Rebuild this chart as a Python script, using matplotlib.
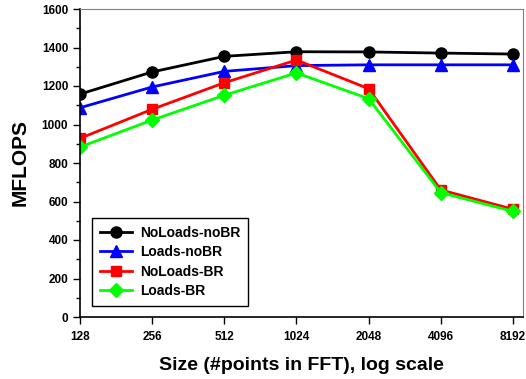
import numpy as np
import matplotlib as mpl
mpl.use('Agg')
import matplotlib.pyplot as plt
import matplotlib.ticker as mticker

plt.rcParams['font.family'] = ['Liberation Sans', 'DejaVu Sans']
plt.rcParams['font.weight'] = 'bold'

sizes = [128, 256, 512, 1024, 2048, 4096, 8192]
noloads_nobr = [1158, 1273, 1354, 1378, 1377, 1371, 1366]
loads_nobr = [1087, 1195, 1276, 1306, 1310, 1310, 1310]
noloads_br = [928, 1079, 1217, 1335, 1186, 660, 560]
loads_br = [883, 1023, 1152, 1268, 1134, 646, 549]

fig = plt.figure(figsize=(5.26, 3.79), dpi=100)
ax = fig.add_axes([80/526, 1 - 317/379, (523-80)/526, (317-9)/379])

ax.plot(sizes, noloads_nobr, '-o', color='black', lw=2, ms=8, label='NoLoads-noBR')
ax.plot(sizes, loads_nobr, '-^', color='blue', lw=2, ms=8, label='Loads-noBR')
ax.plot(sizes, noloads_br, '-s', color='red', lw=2, ms=7.5, label='NoLoads-BR')
ax.plot(sizes, loads_br, '-D', color='#00ff00', lw=2, ms=7, label='Loads-BR')

ax.set_xscale('log', base=2)
ax.set_xlim(128, 8192 * 2**0.139)
ax.set_ylim(0, 1600)
ax.xaxis.set_major_locator(mticker.FixedLocator(sizes))
ax.xaxis.set_major_formatter(mticker.FixedFormatter([str(s) for s in sizes]))
ax.xaxis.set_minor_locator(mticker.NullLocator())
ax.yaxis.set_major_locator(mticker.MultipleLocator(200))
ax.yaxis.set_minor_locator(mticker.MultipleLocator(100))

ax.tick_params(axis='both', which='major', direction='out', length=5, width=1, labelsize=8.5)
ax.tick_params(axis='x', which='major', pad=5)
ax.tick_params(axis='y', which='minor', direction='out', length=3, width=1)
for lbl in ax.get_xticklabels() + ax.get_yticklabels():
    lbl.set_fontweight('bold')

for s in ['top', 'right']:
    ax.spines[s].set_color('#808080')
for s in ['left', 'bottom']:
    ax.spines[s].set_linewidth(1.2)

ax.set_xlabel('Size (#points in FFT), log scale', fontsize=14, fontweight='bold', labelpad=10)
ax.set_ylabel('MFLOPS', fontsize=15, fontweight='bold', labelpad=9)

leg = ax.legend(loc='lower left', bbox_to_anchor=(0.027, 0.036), borderaxespad=0, fontsize=10,
                fancybox=False, framealpha=1, edgecolor='black', handlelength=2.3,
                borderpad=0.55, labelspacing=0.4, handletextpad=0.6)
leg.get_frame().set_linewidth(1)
for t in leg.get_texts():
    t.set_fontweight('bold')

fig.savefig('out.png', dpi=100)
